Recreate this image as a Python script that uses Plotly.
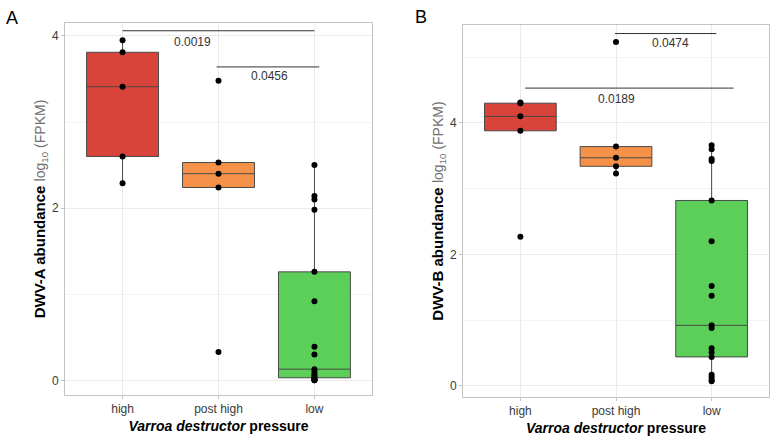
import plotly.graph_objects as go

categories = ["high", "post high", "low"]
colors = ["#D8433A", "#F6914A", "#5BCF57"]

# Panel A: DWV-A abundance log10(FPKM)
a_high = [2.29, 2.60, 3.41, 3.81, 3.95]
a_post = [0.33, 2.24, 2.40, 2.53, 3.48]
a_low = [0.00, 0.00, 0.01, 0.02, 0.03, 0.05, 0.07, 0.10, 0.13,
         0.30, 0.39, 0.92, 1.26, 1.98, 2.10, 2.14, 2.50]

# Panel B: DWV-B abundance log10(FPKM)
b_high = [2.27, 3.88, 4.10, 4.30, 4.31]
b_post = [3.23, 3.34, 3.47, 3.64, 5.23]
b_low = [0.07, 0.09, 0.13, 0.17, 0.44, 0.51, 0.57, 0.88, 0.92,
         1.37, 1.52, 2.20, 2.82, 3.42, 3.45, 3.60, 3.66]

# Significance brackets: (x_start, x_end, y, label, label_x, label_y)
a_brackets = [(0.0, 2.0, 4.06, "0.0019", 0.73, 3.93),
              (0.98, 2.05, 3.64, "0.0456", 1.53, 3.53)]
b_brackets = [(0.99, 2.05, 5.36, "0.0474", 1.57, 5.22),
              (0.05, 2.23, 4.53, "0.0189", 1.01, 4.36)]

panels = [
    ("x", "y", [a_high, a_post, a_low], a_brackets, "DWV-A"),
    ("x2", "y2", [b_high, b_post, b_low], b_brackets, "DWV-B"),
]

fig = go.Figure()
for xa, ya, groups, brackets, name in panels:
    for i, vals in enumerate(groups):
        fig.add_trace(go.Box(
            x=[i] * len(vals), y=vals, xaxis=xa, yaxis=ya,
            width=0.75, quartilemethod="inclusive",
            boxpoints="all", jitter=0, pointpos=0,
            fillcolor=colors[i],
            line=dict(color="#4a4a4a", width=1),
            marker=dict(color="black", size=6),
            whiskerwidth=0, showlegend=False, hoverinfo="y",
        ))
    for x0, x1, yb, lab, lx, ly in brackets:
        fig.add_shape(type="line", xref=xa, yref=ya, x0=x0, x1=x1, y0=yb, y1=yb,
                      line=dict(color="#333333", width=1))
        fig.add_annotation(xref=xa, yref=ya, x=lx, y=ly, text=lab, showarrow=False,
                           font=dict(size=12, color="#333333"))

font_family = "Liberation Sans, Arial, sans-serif"
xcommon = dict(
    tickmode="array", tickvals=[0, 1, 2], ticktext=categories,
    range=[-0.6, 2.6], showgrid=True, gridcolor="#ebebeb", gridwidth=1,
    showline=True, mirror=True, linecolor="#c4c4c4", linewidth=1,
    ticks="outside", ticklen=3, tickcolor="#c4c4c4",
    tickfont=dict(size=12, color="#3a3a3a"), zeroline=False,
    title=dict(text="<b><i>Varroa destructor</i> pressure</b>",
               font=dict(size=14, color="black"), standoff=5),
)
ycommon = dict(
    tickvals=[0, 2, 4], showgrid=True, gridcolor="#ebebeb", gridwidth=1,
    minor=dict(dtick=1, showgrid=True, gridcolor="#f3f3f3", gridwidth=0.6),
    showline=True, mirror=True, linecolor="#c4c4c4", linewidth=1,
    ticks="outside", ticklen=3, tickcolor="#c4c4c4",
    tickfont=dict(size=12, color="#3a3a3a"), zeroline=False,
)

def ytitle(name):
    return dict(text=f"<b>{name} abundance</b> <span style='font-size:14px;color:#707070'>log<sub>10</sub> (FPKM)</span>",
                font=dict(size=15, color="black"), standoff=2)

fig.update_layout(
    width=777, height=440, margin=dict(l=0, r=0, t=0, b=0),
    paper_bgcolor="white", plot_bgcolor="white",
    font=dict(family=font_family),
    xaxis=dict(domain=[65 / 777, 372 / 777], anchor="y", **xcommon),
    yaxis=dict(domain=[1 - 395 / 440, 1 - 23 / 440], anchor="x",
               range=[-0.17, 4.15], title=ytitle("DWV-A"), **ycommon),
    xaxis2=dict(domain=[463 / 777, 769 / 777], anchor="y2", **xcommon),
    yaxis2=dict(domain=[1 - 397 / 440, 1 - 25 / 440], anchor="x2",
                range=[-0.17, 5.49], title=ytitle("DWV-B"), **ycommon),
    boxmode="overlay",
)
fig.add_annotation(xref="paper", yref="paper", x=12 / 777, y=1 - 18 / 440, text="A",
                   showarrow=False, font=dict(size=18, color="black"), xanchor="center", yanchor="middle")
fig.add_annotation(xref="paper", yref="paper", x=421 / 777, y=1 - 17 / 440, text="B",
                   showarrow=False, font=dict(size=18, color="black"), xanchor="center", yanchor="middle")

fig.write_html("out.html")
